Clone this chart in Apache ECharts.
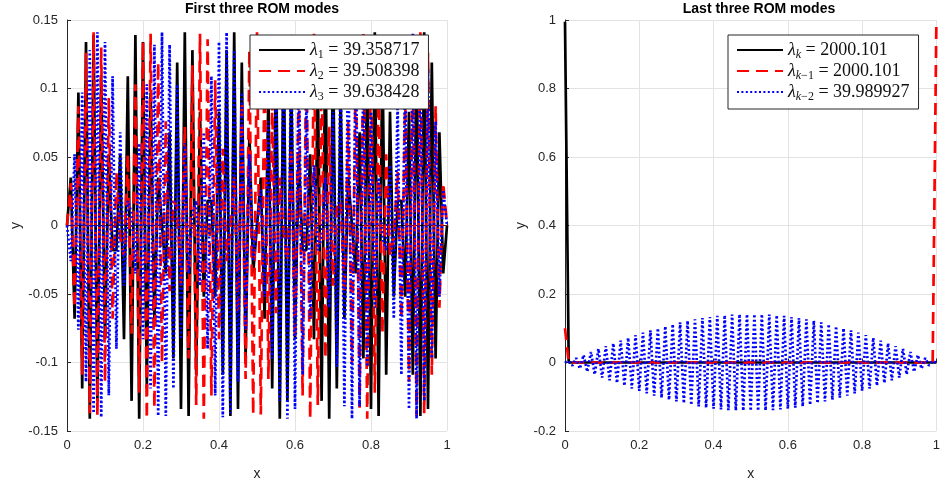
<!DOCTYPE html>
<html><head><meta charset="utf-8">
<script src="https://cdn.jsdelivr.net/npm/echarts@6/dist/echarts.min.js"></script>
<style>html,body{margin:0;padding:0;background:#fff;}#c{width:943px;height:486px;}</style>
</head><body><div id="c"></div>
<script>
// grid points (x)
var xGrid = [0,0.01,0.02,0.03,0.04,0.05,0.06,0.07,0.08,0.09,0.1,0.11,0.12,0.13,0.14,0.15,0.16,0.17,0.18,0.19,0.2,0.21,0.22,0.23,0.24,0.25,0.26,0.27,0.28,0.29,0.3,0.31,0.32,0.33,0.34,0.35,0.36,0.37,0.38,0.39,0.4,0.41,0.42,0.43,0.44,0.45,0.46,0.47,0.48,0.49,0.5,0.51,0.52,0.53,0.54,0.55,0.56,0.57,0.58,0.59,0.6,0.61,0.62,0.63,0.64,0.65,0.66,0.67,0.68,0.69,0.7,0.71,0.72,0.73,0.74,0.75,0.76,0.77,0.78,0.79,0.8,0.81,0.82,0.83,0.84,0.85,0.86,0.87,0.88,0.89,0.9,0.91,0.92,0.93,0.94,0.95,0.96,0.97,0.98,0.99,1];

// First three ROM modes
var mode1 = [0,0.035,-0.068,0.097,-0.119,0.134,-0.141,0.139,-0.128,0.109,-0.083,0.052,-0.018,-0.018,0.052,-0.083,0.109,-0.128,0.139,-0.141,0.134,-0.119,0.097,-0.068,0.035,0,
 -0.035,0.068,-0.097,0.119,-0.134,0.141,-0.139,0.128,-0.109,0.083,-0.052,0.018,0.018,-0.052,0.083,-0.109,0.128,-0.139,0.141,-0.134,0.119,-0.097,0.068,-0.035,0,
 0.035,-0.068,0.097,-0.119,0.134,-0.141,0.139,-0.128,0.109,-0.083,0.052,-0.018,-0.018,0.052,-0.083,0.109,-0.128,0.139,-0.141,0.134,-0.119,0.097,-0.068,0.035,0,
 -0.035,0.068,-0.097,0.119,-0.134,0.141,-0.139,0.128,-0.109,0.083,-0.052,0.018,0.018,-0.052,0.083,-0.109,0.128,-0.139,0.141,-0.134,0.119,-0.097,0.068,-0.035,0];
var mode2 = [0,0.031,-0.060,0.087,-0.109,0.126,-0.137,0.141,-0.139,0.130,-0.114,0.093,-0.068,0.039,-0.009,-0.022,0.052,-0.079,0.103,-0.122,0.134,-0.141,0.140,-0.133,0.119,-0.100,0.076,-0.048,0.018,0.013,-0.044,0.072,-0.097,0.117,-0.131,0.140,-0.141,0.136,-0.124,0.106,-0.083,0.056,-0.026,-0.004,0.035,-0.064,0.090,-0.112,0.128,-0.138,0.141,
 -0.138,0.128,-0.112,0.090,-0.064,0.035,-0.004,-0.026,0.056,-0.083,0.106,-0.124,0.136,-0.141,0.140,-0.131,0.117,-0.097,0.072,-0.044,0.013,0.018,-0.048,0.076,-0.100,0.119,-0.133,0.140,-0.141,0.134,-0.122,0.103,-0.079,0.052,-0.022,-0.009,0.039,-0.068,0.093,-0.114,0.130,-0.139,0.141,-0.137,0.126,-0.109,0.087,-0.060,0.031,0];
var mode3 = [0,-0.026,0.052,-0.076,0.097,-0.114,0.128,-0.137,0.141,-0.140,0.134,-0.124,0.109,-0.090,0.068,-0.044,0.018,0.009,-0.035,0.060,-0.083,0.103,-0.119,0.132,-0.139,0.141,-0.139,0.132,-0.119,0.103,-0.083,0.060,-0.035,0.009,0.018,-0.044,0.068,-0.090,0.109,-0.124,0.134,-0.140,0.141,-0.137,0.128,-0.114,0.097,-0.076,0.052,-0.026,0,
 0.026,-0.052,0.076,-0.097,0.114,-0.128,0.137,-0.141,0.140,-0.134,0.124,-0.109,0.090,-0.068,0.044,-0.018,-0.009,0.035,-0.060,0.083,-0.103,0.119,-0.132,0.139,-0.141,0.139,-0.132,0.119,-0.103,0.083,-0.060,0.035,-0.009,-0.018,0.044,-0.068,0.090,-0.109,0.124,-0.134,0.140,-0.141,0.137,-0.128,0.114,-0.097,0.076,-0.052,0.026,0];

// Last three ROM modes
var modeK = [0.995,0,0,0,0,0,0,0,0,0,0,0,0,0,0,0,0,0,0,0,0,0,0,0,0,0,0,0,0,0,0,0,0,0,0,0,0,0,0,0,0,0,0,0,0,0,0,0,0,0,0,0,0,0,0,0,0,0,0,0,0,0,0,0,0,0,0,0,0,0,0,0,0,0,0,0,0,0,0,0,0,0,0,0,0,0,0,0,0,0,0,0,0,0,0,0,0,0,0,0,0];
var modeK1 = [0.1,0,0,0,0,0,0,0,0,0,0,0,0,0,0,0,0,0,0,0,0,0,0,0,0,0,0,0,0,0,0,0,0,0,0,0,0,0,0,0,0,0,0,0,0,0,0,0,0,0,0,0,0,0,0,0,0,0,0,0,0,0,0,0,0,0,0,0,0,0,0,0,0,0,0,0,0,0,0,0,0,0,0,0,0,0,0,0,0,0,0,0,0,0,0,0,0,0,0,0,0.995];
var modeK2 = [0,0.004,-0.009,0.013,-0.018,0.022,-0.027,0.031,-0.035,0.040,-0.044,0.048,-0.052,0.056,-0.060,0.064,-0.068,0.072,-0.076,0.080,-0.083,0.087,-0.090,0.094,-0.097,0.100,-0.103,0.106,-0.109,0.112,-0.114,0.117,-0.119,0.122,-0.124,0.126,-0.128,0.130,-0.132,0.133,-0.135,0.136,-0.137,0.138,-0.139,0.140,-0.140,0.141,-0.141,0.141,-0.141,
 0.141,-0.141,0.141,-0.140,0.140,-0.139,0.138,-0.137,0.136,-0.135,0.133,-0.132,0.130,-0.128,0.126,-0.124,0.122,-0.119,0.117,-0.114,0.112,-0.109,0.106,-0.103,0.100,-0.097,0.094,-0.090,0.087,-0.083,0.080,-0.076,0.072,-0.068,0.064,-0.060,0.056,-0.052,0.048,-0.044,0.040,-0.035,0.031,-0.027,0.022,-0.018,0.013,-0.009,0.004,0];

var titles = ['First three ROM modes', 'Last three ROM modes'];
var leftLegend = {m1: ['1', '', ' = 39.358717'], m2: ['2', '', ' = 39.508398'], m3: ['3', '', ' = 39.638428']};
var rightLegend = {mk: ['k', '', ' = 2000.101'], mk1: ['k', '\u22121', ' = 2000.101'], mk2: ['k', '\u22122', ' = 39.989927']};

function pairs(arr) { return xGrid.map(function (x, i) { return [x, arr[i]]; }); }

var AX = '#262626', GR = '#e3e3e3';
var tickFont = {color: AX, fontSize: 13, fontFamily: 'Liberation Sans, Arial, sans-serif'};

function xAx(gi) {
  return {type: 'value', gridIndex: gi, min: 0, max: 1, interval: 0.2, name: 'x', nameLocation: 'middle', nameGap: 36,
    nameTextStyle: {color: AX, fontSize: 14, fontFamily: 'Liberation Sans, Arial, sans-serif'},
    axisLine: {show: true, lineStyle: {color: AX, width: 1}}, axisTick: {show: true, inside: true, length: 4, lineStyle: {color: AX}},
    axisLabel: Object.assign({margin: 8}, tickFont), splitLine: {show: true, lineStyle: {color: GR, width: 1}}};
}
function yAx(gi, mn, mx, iv, gap) {
  return {type: 'value', gridIndex: gi, min: mn, max: mx, interval: iv, name: 'y', nameLocation: 'middle', nameGap: gap,
    nameTextStyle: {color: AX, fontSize: 14, fontFamily: 'Liberation Sans, Arial, sans-serif'},
    axisLine: {show: true, onZero: false, lineStyle: {color: AX, width: 1}}, axisTick: {show: true, inside: true, length: 4, lineStyle: {color: AX}},
    axisLabel: Object.assign({margin: 9}, tickFont), splitLine: {show: true, lineStyle: {color: GR, width: 1}}};
}
function ser(name, arr, gi, color, type, width) {
  return {name: name, type: 'line', xAxisIndex: gi, yAxisIndex: gi, data: pairs(arr), symbol: 'none', showSymbol: false,
    lineStyle: {color: color, width: width, type: type, cap: 'butt'}, itemStyle: {color: color}, animation: false, z: 2};
}
var rich = {
  l: {fontFamily: 'Liberation Serif, serif', fontStyle: 'italic', fontSize: 18, color: '#111', lineHeight: 22},
  s: {fontFamily: 'Liberation Serif, serif', fontSize: 12, color: '#111', verticalAlign: 'bottom', lineHeight: 22, padding: [8, 0, 0, 0]},
  si: {fontFamily: 'Liberation Serif, serif', fontStyle: 'italic', fontSize: 12, color: '#111', verticalAlign: 'bottom', lineHeight: 22, padding: [8, 0, 0, 0]},
  t: {fontFamily: 'Liberation Serif, serif', fontSize: 18, color: '#111', lineHeight: 22}
};
function fmt(map) {
  return function (name) {
    var p = map[name];
    var sub = /[0-9]/.test(p[0]) ? '{s|' + p[0] + '}' : '{si|' + p[0] + '}';
    var sub2 = p[1] ? '{s|' + p[1] + '}' : '';
    return '{l|\u03bb}' + sub + sub2 + '{t|' + p[2] + '}';
  };
}
function legend(names, left, map) {
  return {data: names, orient: 'vertical', left: left, top: 35, itemWidth: 46, itemHeight: 14, itemGap: 1,
    padding: [6, 9, 6, 8], borderColor: AX, borderWidth: 1, backgroundColor: '#fff', borderRadius: 0,
    itemStyle: {color: 'rgba(0,0,0,0)', borderColor: 'rgba(0,0,0,0)', borderWidth: 0, opacity: 0},
    formatter: fmt(map), textStyle: {rich: rich, padding: [0, 0, 0, 0]}, selectedMode: false, z: 10};
}

var chart = echarts.init(document.getElementById('c'), null, {renderer: 'canvas'});
chart.setOption({
  backgroundColor: '#fff',
  animation: false,
  title: [
    {text: titles[0], left: 257, top: -3, textAlign: 'center', textStyle: {fontSize: 14, fontWeight: 'bold', color: '#000', fontFamily: 'Liberation Sans, Arial, sans-serif'}},
    {text: titles[1], left: 754, top: -3, textAlign: 'center', textStyle: {fontSize: 14, fontWeight: 'bold', color: '#000', fontFamily: 'Liberation Sans, Arial, sans-serif'}}
  ],
  grid: [
    {left: 67, top: 20, width: 380, height: 412},
    {left: 565, top: 20, width: 378, height: 412}
  ],
  xAxis: [xAx(0), xAx(1)],
  yAxis: [yAx(0, -0.15, 0.15, 0.05, 44), yAx(1, -0.2, 1, 0.2, 37)],
  legend: [legend(['m1', 'm2', 'm3'], 250, leftLegend), legend(['mk', 'mk1', 'mk2'], 728, rightLegend)],
  series: [
    ser('m1', mode1, 0, '#000000', 'solid', 2.7),
    ser('m2', mode2, 0, '#ff0000', [12, 7], 2.7),
    ser('m3', mode3, 0, '#0000ff', [2, 2.4], 2.7),
    ser('mk', modeK, 1, '#000000', 'solid', 2.7),
    ser('mk1', modeK1, 1, '#ff0000', [12, 7], 2.7),
    ser('mk2', modeK2, 1, '#0000ff', [2, 2.4], 2.7)
  ]
});
</script></body></html>
